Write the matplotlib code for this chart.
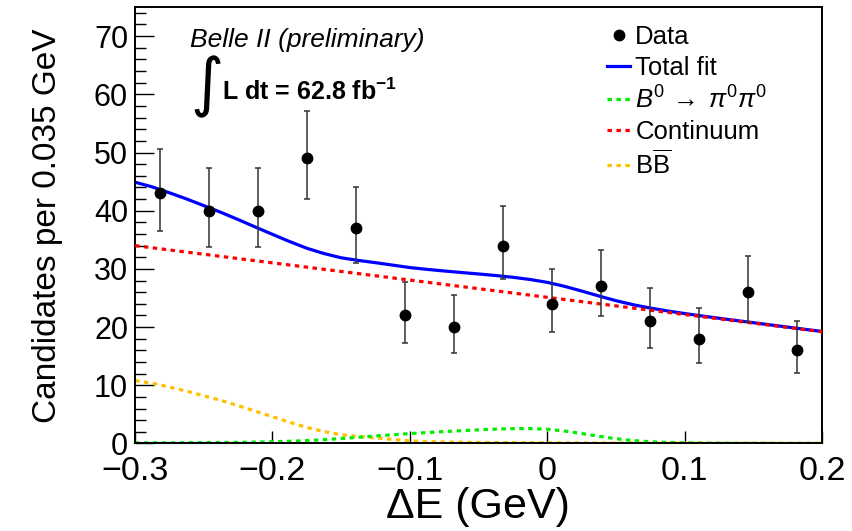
import matplotlib
matplotlib.use("Agg")
import matplotlib.pyplot as plt
from matplotlib.lines import Line2D
from matplotlib.ticker import MultipleLocator
import numpy as np

plt.rcParams['font.family'] = ['Liberation Sans', 'DejaVu Sans']
plt.rcParams['mathtext.fontset'] = 'custom'
plt.rcParams['mathtext.rm'] = 'Liberation Sans'
plt.rcParams['mathtext.it'] = 'Liberation Sans:italic'
plt.rcParams['mathtext.bf'] = 'Liberation Sans:bold'
plt.rcParams['axes.unicode_minus'] = True

# Binned candidates (bin width ~0.035 GeV)
bin_centers = [-0.2821, -0.2464, -0.2107, -0.1750, -0.1393, -0.1036, -0.0679,
               -0.0321, 0.0036, 0.0393, 0.0750, 0.1107, 0.1464, 0.1821]
counts = [43, 40, 40, 49, 37, 22, 20, 34, 24, 27, 21, 18, 26, 16]
err_low = [6.53, 6.29, 6.29, 6.97, 6.05, 4.65, 4.43, 5.80, 4.86, 5.16, 4.54, 4.20, 5.06, 3.95]
err_high = [7.61, 7.38, 7.38, 8.05, 7.14, 5.77, 5.56, 6.89, 5.97, 6.27, 5.66, 5.33, 6.17, 5.09]

# Fit components sampled in Delta E
fit_x = [-0.3000, -0.2875, -0.2750, -0.2625, -0.2500, -0.2375, -0.2250, -0.2125,
         -0.2000, -0.1875, -0.1750, -0.1625, -0.1500, -0.1375, -0.1250, -0.1125,
         -0.1000, -0.0875, -0.0750, -0.0625, -0.0500, -0.0375, -0.0250, -0.0125,
         0.0000, 0.0125, 0.0250, 0.0375, 0.0500, 0.0625, 0.0750, 0.0875,
         0.1000, 0.1125, 0.1250, 0.1375, 0.1500, 0.1625, 0.1750, 0.1875, 0.2000]
continuum = [34.00, 33.63, 33.26, 32.89, 32.52, 32.15, 31.78, 31.41,
             31.04, 30.67, 30.30, 29.93, 29.56, 29.19, 28.82, 28.45,
             28.08, 27.71, 27.34, 26.97, 26.60, 26.23, 25.86, 25.49,
             25.12, 24.75, 24.38, 24.01, 23.64, 23.27, 22.90, 22.53,
             22.16, 21.79, 21.42, 21.05, 20.68, 20.31, 19.94, 19.57, 19.20]
bbbar = [10.80, 10.35, 9.70, 9.00, 8.20, 7.40, 6.50, 5.55,
         4.60, 3.65, 2.75, 2.05, 1.50, 1.20, 0.95, 0.70,
         0.45, 0.33, 0.25, 0.21, 0.18, 0.16, 0.15, 0.13,
         0.12, 0.11, 0.10, 0.09, 0.08, 0.075, 0.07, 0.065,
         0.06, 0.055, 0.05, 0.05, 0.05, 0.045, 0.04, 0.04, 0.04]
signal = [0.10, 0.11, 0.12, 0.13, 0.15, 0.17, 0.20, 0.24,
          0.30, 0.38, 0.50, 0.66, 0.85, 1.07, 1.30, 1.50,
          1.70, 1.88, 2.05, 2.20, 2.35, 2.47, 2.55, 2.56,
          2.45, 2.15, 1.72, 1.25, 0.82, 0.50, 0.30, 0.18,
          0.11, 0.07, 0.05, 0.03, 0.03, 0.02, 0.02, 0.01, 0.01]
total_fit = np.array(continuum) + np.array(bbbar) + np.array(signal)

x_ticks = [-0.3, -0.2, -0.1, 0.0, 0.1, 0.2]
x_tick_labels = ["\u22120.3", "\u22120.2", "\u22120.1", "0", "0.1", "0.2"]
y_ticks = [0, 10, 20, 30, 40, 50, 60, 70]

fig = plt.figure(figsize=(8.53, 5.31), dpi=100)
ax = fig.add_axes([0.1583, 0.1648, 0.8054, 0.822])

dot = (0, (1.4, 1.4))
ax.plot(fit_x, bbbar, color='#ffc000', lw=2.3, ls=dot, zorder=2)
ax.plot(fit_x, signal, color='#00ee00', lw=2.3, ls=dot, zorder=2)
ax.plot(fit_x, continuum, color='#ff0000', lw=2.3, ls=dot, zorder=3)
ax.plot(fit_x, total_fit, color='#0000ff', lw=2.3, zorder=2.5)
ax.errorbar(bin_centers, counts, yerr=[err_low, err_high], fmt='o', color='black',
            ecolor='#333333', elinewidth=1.1, capsize=2.2, capthick=1.1,
            markersize=7.5, zorder=4)

ax.set_xlim(-0.3, 0.2)
ax.set_ylim(0, 75)
ax.set_xticks(x_ticks)
ax.set_xticklabels(x_tick_labels)
ax.set_yticks(y_ticks)
ax.yaxis.set_minor_locator(MultipleLocator(2))
ax.tick_params(axis='y', which='major', direction='in', length=14, width=1.0,
               labelsize=22, pad=5)
ax.tick_params(axis='y', which='minor', direction='in', length=8, width=1.0)
ax.tick_params(axis='x', which='major', direction='in', length=9, width=1.0,
               labelsize=24.5, pad=9)
for s in ax.spines.values():
    s.set_linewidth(1.4)

ax.set_xlabel("\u0394E (GeV)", fontsize=31)
ax.xaxis.set_label_coords(0.499, -0.100)
ax.set_ylabel("Candidates per 0.035 GeV", fontsize=24)
ax.yaxis.set_label_coords(-0.105, 0.5)

ax.text(0.250, 0.924, "Belle II (preliminary)", transform=ax.transAxes,
        fontsize=19, style='italic', ha='center', va='center')
ax.text(0.105, 0.818, "\u222b", transform=ax.transAxes, fontsize=46,
        family='DejaVu Sans', ha='center', va='center')
ax.text(0.1266, 0.787, r"L dt = 62.8 fb$^{\mathbf{-1}}$", transform=ax.transAxes,
        fontsize=18, fontweight='bold', ha='left', va='baseline')

handles = [
    Line2D([], [], marker='o', color='black', ls='none', markersize=7.5),
    Line2D([], [], color='#0000ff', lw=2.3),
    Line2D([], [], color='#00ee00', lw=2.3, ls=dot),
    Line2D([], [], color='#ff0000', lw=2.3, ls=dot),
    Line2D([], [], color='#ffc000', lw=2.3, ls=dot),
]
labels = ["Data", "Total fit", r"$B^0\,\rightarrow\;\pi^0\pi^0$", "Continuum",
          r"B$\overline{\mathrm{B}}$"]
ax.legend(handles, labels, loc='upper left', bbox_to_anchor=(0.687, 0.958),
          frameon=False, fontsize=18.5, handlelength=0.9, handletextpad=0.2,
          labelspacing=0.25, borderpad=0, borderaxespad=0)

fig.savefig("out.png", dpi=100)
